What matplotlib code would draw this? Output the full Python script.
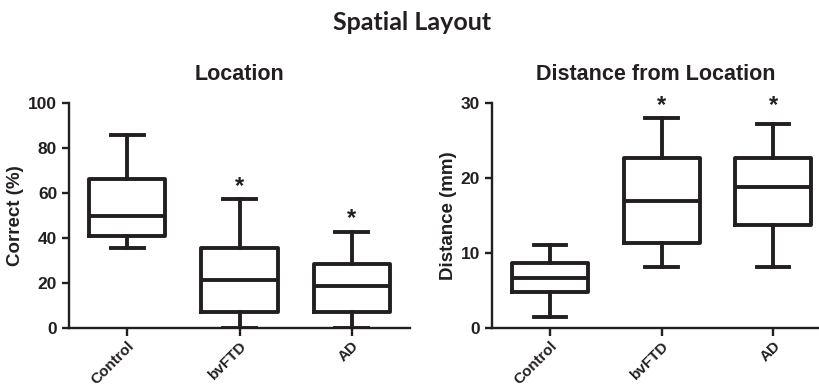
import matplotlib
matplotlib.use("Agg")
import matplotlib.pyplot as plt

groups = ["Control", "bvFTD", "AD"]

# box stats: low whisker, Q1, median, Q3, high whisker
loc_low = [35.5, 0.0, 0.0]
loc_q1 = [40.9, 6.9, 6.9]
loc_med = [49.8, 21.3, 18.8]
loc_q3 = [66.0, 35.5, 28.5]
loc_high = [85.7, 57.3, 42.8]
loc_star = [None, 63.0, 48.5]

dist_low = [1.5, 8.1, 8.1]
dist_q1 = [4.8, 11.3, 13.7]
dist_med = [6.65, 16.9, 18.8]
dist_q3 = [8.65, 22.7, 22.7]
dist_high = [11.0, 27.9, 27.2]
dist_star = [None, 29.6, 29.6]

ink = "#231f20"
plt.rcParams["font.family"] = ["Liberation Sans", "DejaVu Sans"]
plt.rcParams["font.weight"] = "bold"

fig = plt.figure(figsize=(8.2, 3.89), dpi=100)
fig.text(0.503, 0.942, "Spatial Layout", ha="center", va="center",
         fontsize=18, fontweight="bold", family=["Lato", "DejaVu Sans"], color=ink)

ax1 = fig.add_axes([0.0841, 0.157, 0.416, 0.579])
ax2 = fig.add_axes([0.600, 0.157, 0.400, 0.579])


def draw(ax, low, q1, med, q3, high, stars, ymax, yticks, ylabel, title, xmax):
    stats = []
    for i in range(len(groups)):
        stats.append(dict(whislo=low[i], q1=q1[i], med=med[i], q3=q3[i],
                          whishi=high[i], label=groups[i]))
    lp = dict(color=ink, linewidth=2.8)
    ax.bxp(stats, positions=range(len(groups)), widths=0.68, showfliers=False,
           boxprops=lp, whiskerprops=lp, capprops=lp, medianprops=lp,
           capwidths=0.29)
    for i, s in enumerate(stars):
        if s is not None:
            ax.text(i, s, "*", ha="center", va="center", fontsize=17,
                    fontweight="bold", color=ink)
    ax.set_ylim(0, ymax)
    ax.set_xlim(-0.52, xmax)
    ax.set_yticks(yticks)
    ax.set_xticks(range(len(groups)))
    ax.set_xticklabels(groups, rotation=45, ha="right", rotation_mode="anchor")
    for sp in ["top", "right"]:
        ax.spines[sp].set_visible(False)
    for sp in ["left", "bottom"]:
        ax.spines[sp].set_linewidth(1.7)
        ax.spines[sp].set_color(ink)
    ax.tick_params(axis="both", colors=ink, width=1.7, length=5,
                   labelsize=12.5)
    ax.tick_params(axis="x", length=6, pad=2, labelsize=11)
    for lab in ax.get_xticklabels() + ax.get_yticklabels():
        lab.set_fontweight("bold")
    ax.set_ylabel(ylabel, fontsize=13.5, fontweight="bold", color=ink, labelpad=3)
    ax.set_title(title, fontsize=15.5, fontweight="bold", color=ink, pad=16)


draw(ax1, loc_low, loc_q1, loc_med, loc_q3, loc_high, loc_star,
     100, [0, 20, 40, 60, 80, 100], "Correct (%)", "Location", 2.52)
draw(ax2, dist_low, dist_q1, dist_med, dist_q3, dist_high, dist_star,
     30, [0, 10, 20, 30], "Distance (mm)", "Distance from Location", 2.42)

fig.savefig("out.png", dpi=100)
